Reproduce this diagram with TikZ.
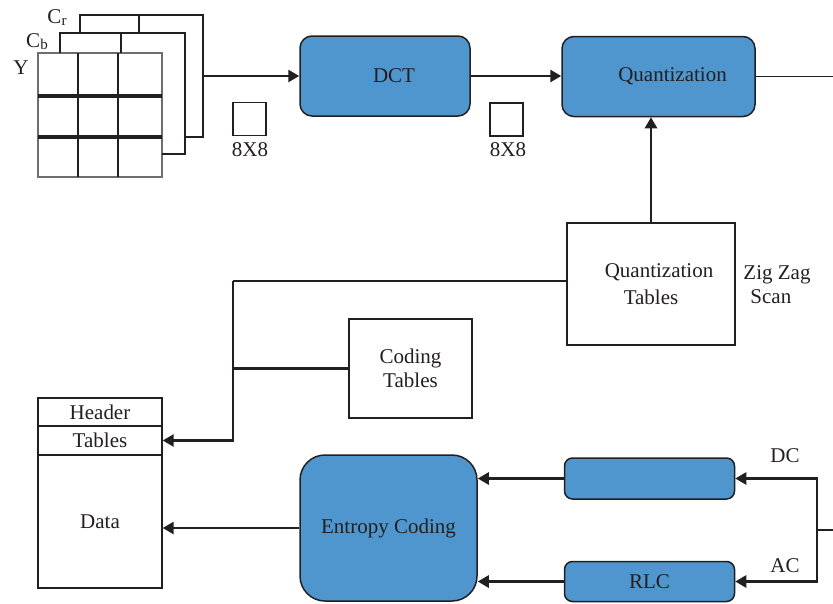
\documentclass[tikz,border=0pt]{standalone}
\usepackage{fontspec}
\setmainfont{Liberation Serif}
\usetikzlibrary{arrows.meta}
\definecolor{boxblue}{HTML}{4F96CF}
\definecolor{ink}{HTML}{231F20}
\definecolor{gridgray}{HTML}{6D6E71}
\newcommand{\sub}[1]{\raisebox{-2pt}{\fontsize{15}{15}\selectfont #1}}
\begin{document}
\begin{tikzpicture}[x=1pt,y=-1pt, font=\fontsize{21}{24}\selectfont, text=ink,
 bluebox/.style={draw=ink, line width=1.5pt, fill=boxblue, rounded corners=12pt, inner sep=0pt},
 whitebox/.style={draw=ink, line width=1.4pt, fill=white, inner sep=0pt},
 conn/.style={draw=ink, line width=2.6pt},
 thinconn/.style={draw=ink, line width=1.3pt},
 arr/.style={conn, -{Triangle[length=11pt,width=12pt]}},
 lbl/.style={inner sep=0pt}
 ]
\path[use as bounding box, fill=white] (0,0) rectangle (833,603);

% Y / Cb / Cr planes
\draw[gridgray, line width=1.4pt] (38,53) rectangle (162,177);
\draw[conn] (78,53) -- (78,177) (118,53) -- (118,177);
\draw[draw=ink, line width=3.2pt] (38,96) -- (162,96) (38,137) -- (162,137);
\draw[conn] (60,53) -- (60,33) -- (185,33) -- (185,154) -- (162,154);
\draw[conn] (121,33) -- (121,53);
\draw[conn] (80,33) -- (80,15) -- (203,15) -- (203,137) -- (185,137);
\draw[conn] (139,15) -- (139,33);
\coordinate (gout) at (203,76);
\node[lbl] (ylab) at (21,68) {Y};
\node[lbl] (cblab) at (37,42) {C\sub{b}};
\node[lbl] (crlab) at (57,18) {C\sub{r}};

% top row
\node[bluebox, minimum width=170, minimum height=80] (dct) at (385,76) {\hspace*{18pt}DCT};
\node[bluebox, minimum width=193, minimum height=80] (quant) at (658.5,76.5) {\hspace*{28pt}Quantization};
\coordinate (qout) at (833,76.5);
\draw[arr] (gout) -- (dct.west);
\draw[arr] (dct.east) -- (dct.east -| quant.west);
\draw[thinconn] (quant.east) -- (qout);

\node[whitebox, line width=1.2pt, minimum size=33] (sq1) at (249.5,119) {};
\node[lbl] (s1) at (250,150) {8X8};
\node[whitebox, line width=1.2pt, minimum size=33] (sq2) at (506.5,119.5) {};
\node[lbl] (s2) at (508,150) {8X8};

% quantization tables
\node[whitebox, minimum width=168, minimum height=122, align=center] (qt) at (651,284) {\hspace*{16pt}Quantization\\[3pt]Tables};
\node[lbl, align=left] (zz) at (777,285) {Zig Zag\\\hspace*{7pt}Scan};
\draw[arr] (qt.north) -- (qt.north |- quant.south);

\node[whitebox, minimum width=123, minimum height=99, align=center] (ct) at (410.5,368.5) {Coding\\Tables};

% file structure
\node[whitebox, minimum width=124, minimum height=28] (hdr) at (100,412) {Header};
\node[whitebox, minimum width=124, minimum height=29] (tbl) at (100,440.5) {Tables};
\node[whitebox, minimum width=124, minimum height=133] (data) at (100,521.5) {Data};

\coordinate (j1) at (233,281);
\draw[conn] (qt.west |- j1) -- (j1);
\draw[arr] (j1) |- (tbl.east);
\draw[conn] (ct.west) -- (ct.west -| j1);

% entropy coding
\node[bluebox, rounded corners=25pt, minimum width=177, minimum height=146] (ent) at (388.5,528) {Entropy Coding};
\node[bluebox, rounded corners=8pt, minimum width=170, minimum height=41] (dcb) at (649.5,478.5) {};
\node[bluebox, rounded corners=8pt, minimum width=170, minimum height=40] (rlc) at (649.5,581.5) {RLC};
\draw[arr] (ent.west) -- (data.east |- ent.west);
\draw[arr] (dcb.west) -- (ent.east |- dcb.west);
\draw[arr] (rlc.west) -- (ent.east |- rlc.west);

\coordinate (br) at (817,530);
\coordinate (brin) at (833,530);
\draw[conn] (brin) -- (br);
\draw[arr] (br) |- (dcb.east);
\draw[arr] (br) |- (rlc.east);
\node[lbl] (dclab) at (785,456) {DC};
\node[lbl] (aclab) at (785,566) {AC};
\end{tikzpicture}
\end{document}
